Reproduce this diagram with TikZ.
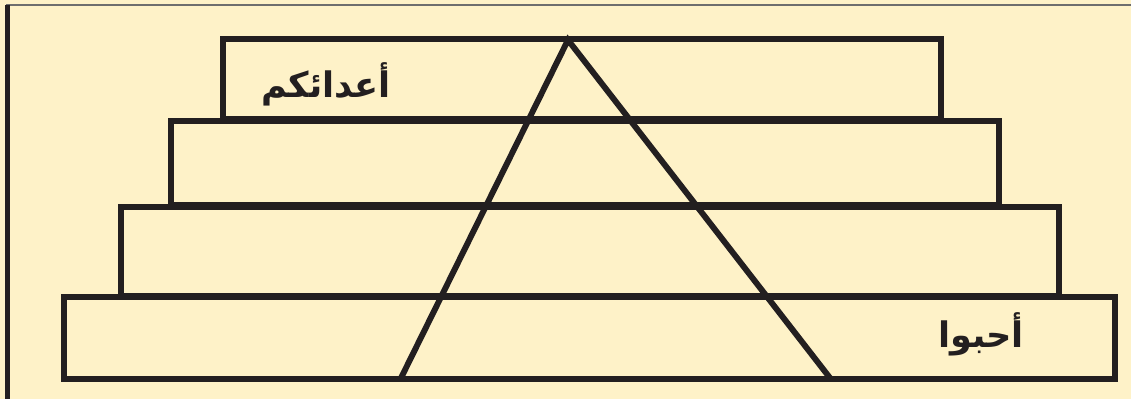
\documentclass[tikz,border=0pt]{standalone}
\usepackage{fontspec}
\usepackage{xcolor}
\usetikzlibrary{positioning, calc}
\TeXXeTstate=1
\newfontfamily\arabicfont[Script=Arabic]{DejaVu Sans}
\definecolor{PaperCream}{HTML}{FEF2C8}
\definecolor{InkBlack}{HTML}{231F20}
\definecolor{FrameGray}{HTML}{6E6E6E}
\tikzset{
    % layer boxes of the pyramid
    layerbox/.style={
        draw=InkBlack,
        line width=3.8pt,
        line join=miter
    },
    % the triangle across the layers
    peakline/.style={
        draw=InkBlack,
        line width=4.2pt,
        line join=miter
    },
    % arabic words
    wordlabel/.style={
        font=\arabicfont\bfseries\fontsize{25}{28}\selectfont,
        text=InkBlack,
        inner sep=0pt
    }
}
\begin{document}
\begin{tikzpicture}[x=0.025cm, y=-0.025cm]
    % paper and frame
    \fill[PaperCream] (0,0) rectangle (1131,399);
    \useasboundingbox (0,0) rectangle (1131,399);
    \draw[FrameGray, line width=1.2pt] (6,5) -- (1131,5);
    \draw[InkBlack, line width=3pt] (7.5,5) -- (7.5,399);

    % layers, top to bottom
    \draw[layerbox] (223,39) rectangle (941,119);
    \draw[layerbox] (171,121) rectangle (999,205);
    \draw[layerbox] (121,207) rectangle (1059,296);
    \draw[layerbox] (64,297) rectangle (1115,379);

    % triangle
    \coordinate (apex) at (568,40);
    \coordinate (footL) at (401,378);
    \coordinate (footR) at (830,378);
    \draw[peakline] (footL) -- (apex) -- (footR);

    \node[wordlabel] (enemies) at (326,84) {\beginR أعدائكم\endR};
    \node[wordlabel] (love) at (981,334) {\beginR أحبوا\endR};
\end{tikzpicture}
\end{document}
